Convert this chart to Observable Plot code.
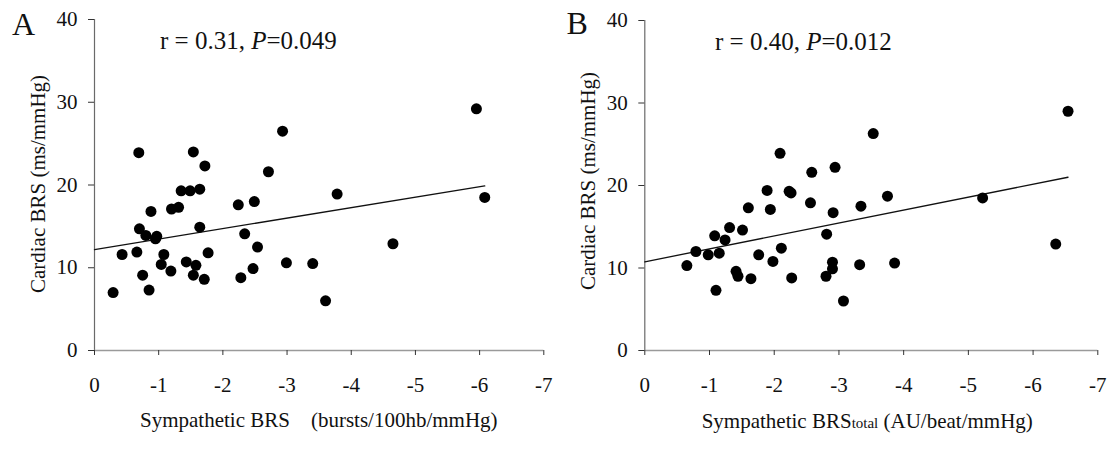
<!DOCTYPE html>
<html>
<head>
<meta charset="utf-8">
<script src="https://cdn.jsdelivr.net/npm/d3@7"></script>
<script src="https://cdn.jsdelivr.net/npm/@observablehq/plot@0.6"></script>
<style>
  html, body { margin: 0; padding: 0; background: #fff; }
  #wrap { display: flex; width: 1112px; height: 450px; }
  svg, svg text { font-family: "Liberation Serif", "Times New Roman", serif !important; }
</style>
</head>
<body>
<div id="wrap"></div>
<script>
// ---- Data ----
const xTicks = [0, -1, -2, -3, -4, -5, -6, -7];
const yTicks = [0, 10, 20, 30, 40];

// Panel A: Sympathetic BRS (bursts/100hb/mmHg) vs Cardiac BRS (ms/mmHg)
const aX = [-0.29, -0.43, -0.69, -0.66, -0.70, -0.80, -0.75, -0.85, -0.88, -0.97,
            -0.95, -1.08, -1.04, -1.19, -1.20, -1.31, -1.35, -1.49, -1.64, -1.54,
            -1.72, -1.43, -1.58, -1.54, -1.71, -1.64, -1.77, -2.24, -2.49, -2.34,
            -2.54, -2.28, -2.47, -2.71, -2.93, -2.99, -3.40, -3.60, -3.78, -4.65,
            -5.95, -6.08];
const aY = [7.0, 11.6, 23.9, 11.9, 14.7, 13.9, 9.1, 7.3, 16.8, 13.8,
            13.5, 11.6, 10.4, 9.6, 17.1, 17.3, 19.3, 19.3, 19.5, 24.0,
            22.3, 10.7, 10.3, 9.1, 8.6, 14.9, 11.8, 17.6, 18.0, 14.1,
            12.5, 8.8, 9.9, 21.6, 26.5, 10.6, 10.5, 6.0, 18.9, 12.9,
            29.2, 18.5];
const aFitX = [0, -6.08];
const aFitY = [12.2, 19.9];

// Panel B: Sympathetic BRS total (AU/beat/mmHg) vs Cardiac BRS (ms/mmHg)
const bX = [-0.65, -0.79, -0.98, -1.15, -1.08, -1.24, -1.31, -1.51, -1.10, -1.41,
            -1.44, -1.64, -1.60, -1.76, -1.89, -1.94, -1.98, -2.09, -2.11, -2.23,
            -2.26, -2.27, -2.56, -2.58, -2.80, -2.81, -2.90, -2.90, -2.91, -2.94,
            -3.07, -3.32, -3.34, -3.53, -3.75, -3.86, -5.22, -6.35, -6.54];
const bY = [10.3, 12.0, 11.6, 11.8, 13.9, 13.4, 14.9, 14.6, 7.3, 9.6,
            9.0, 8.7, 17.3, 11.6, 19.4, 17.1, 10.8, 23.9, 12.4, 19.3,
            19.1, 8.8, 17.9, 21.6, 9.0, 14.1, 10.7, 9.9, 16.7, 22.2,
            6.0, 10.4, 17.5, 26.3, 18.7, 10.6, 18.5, 12.9, 29.0];
const bFitX = [0, -6.54];
const bFitY = [10.75, 21.0];

const serif = "Liberation Serif";

const panels = [
  {letter: "A", xs: aX, ys: aY, fx: aFitX, fy: aFitY,
   marginLeft: 94, marginRight: 12.7, marginTop: 19,
   stat: ["r = 0.31, ", "P", "=0.049"], statX: 160, statY: 49,
   letterX: 12, letterY: 35,
   yTitleX: 45, yTitleY: 184,
   xTitle: [["Sympathetic BRS", null], ["\u00a0\u00a0\u00a0\u00a0(bursts/100hb/mmHg)", null]], xTitleX: 140, xTitleY: 427},
  {letter: "B", xs: bX, ys: bY, fx: bFitX, fy: bFitY,
   marginLeft: 88.3, marginRight: 14.7, marginTop: 20,
   stat: ["r = 0.40, ", "P", "=0.012"], statX: 159, statY: 50,
   letterX: 10.5, letterY: 34,
   yTitleX: 39, yTitleY: 181,
   xTitle: [["Sympathetic BRS", null], ["total", 15], [" (AU/beat/mmHg)", null]], xTitleX: 145.7, xTitleY: 428}
];

const wrap = document.getElementById("wrap");
for (const p of panels) {
  const pts = p.xs.map((x, i) => ({x, y: p.ys[i]}));
  const fit = p.fx.map((x, i) => ({x, y: p.fy[i]}));
  const chart = Plot.plot({
    width: 556,
    height: 450,
    marginLeft: p.marginLeft,
    marginRight: p.marginRight,
    marginTop: p.marginTop,
    marginBottom: 100,
    style: {fontFamily: serif, background: "#fff", color: "#111"},
    x: {domain: [0, -7], ticks: xTicks},
    y: {domain: [0, 40], ticks: yTicks},
    marks: [
      Plot.ruleX([0], {stroke: "#6a6a6a", strokeWidth: 1.2}),
      Plot.ruleY([0], {stroke: "#9a9a9a", strokeWidth: 1.6}),
      Plot.axisX({ticks: xTicks, tickSize: 5, tickPadding: 22, fontSize: 21, fontFamily: serif, label: null,
                  stroke: "#333", tickFormat: d => String(d), fill: "#111"}),
      Plot.axisY({ticks: yTicks, tickSize: 6, tickPadding: 11, fontSize: 21, fontFamily: serif, label: null,
                  stroke: "#333", fill: "#111"}),
      Plot.line(fit, {x: "x", y: "y", stroke: "#111", strokeWidth: 1.3}),
      Plot.dot(pts, {x: "x", y: "y", r: 5.5, fill: "#000", stroke: "none"})
    ]
  });
  const svg = d3.select(chart);
  // Panel letter
  svg.append("text").attr("x", p.letterX).attr("y", p.letterY).attr("text-anchor", "start")
    .attr("font-size", 32).attr("fill", "#111").text(p.letter);
  // Statistic annotation
  const st = svg.append("text").attr("x", p.statX).attr("y", p.statY).attr("text-anchor", "start")
    .attr("font-size", 25).attr("fill", "#111");
  st.append("tspan").text(p.stat[0]);
  st.append("tspan").attr("font-style", "italic").text(p.stat[1]);
  st.append("tspan").text(p.stat[2]);
  // Y axis title
  svg.append("text")
    .attr("transform", `translate(${p.yTitleX},${p.yTitleY}) rotate(-90)`)
    .attr("text-anchor", "middle").attr("font-size", 21).attr("fill", "#111")
    .text("Cardiac BRS (ms/mmHg)");
  // X axis title
  const xt = svg.append("text").attr("x", p.xTitleX).attr("y", p.xTitleY).attr("text-anchor", "start")
    .attr("font-size", 21).attr("fill", "#111").attr("xml:space", "preserve");
  for (const [s, fs] of p.xTitle) {
    const t = xt.append("tspan").text(s);
    if (fs) t.attr("font-size", fs);
  }
  wrap.appendChild(chart);
}
</script>
</body>
</html>
